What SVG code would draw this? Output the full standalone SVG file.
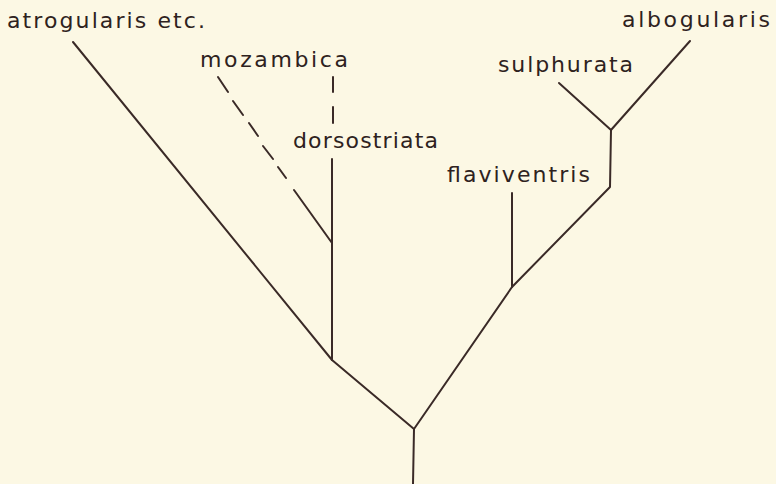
<svg xmlns="http://www.w3.org/2000/svg" width="776" height="484" viewBox="0 0 776 484">
<style>
.bg{fill:#fcf8e4}
.e{stroke:#3a2a27;stroke-width:2;fill:none;stroke-linecap:round;stroke-linejoin:round}
text{font-family:"DejaVu Sans","Liberation Sans",sans-serif;font-size:22px;fill:#2e2220}
</style>
<rect class="bg" width="776" height="484"/>
<g id="connectors">
<path class="e" d="M413,484 L414,429 L332,360 L73,42"/>
<path class="e" d="M332,360 L332,159"/>
<path class="e" d="M333,77 L333,92 M333,107 L333,123"/>
<path class="e" d="M218,77 L228,92 M233,101 L243,115 M249,123 L258,136 M263,146 L273,159 M278,167 L286,178 M294,190 L332,243"/>
<path class="e" d="M414,429 L512,287 L610,187 L611,130 L690,41"/>
<path class="e" d="M611,130 L559,83"/>
<path class="e" d="M512,287 L512,193"/>
</g>
<g id="atrogularis"><text x="7" y="28" textLength="198" lengthAdjust="spacing">atrogularis etc.</text></g>
<g id="mozambica"><text x="200" y="67" textLength="148" lengthAdjust="spacing">mozambica</text></g>
<g id="dorsostriata"><text x="293" y="148" textLength="145" lengthAdjust="spacing">dorsostriata</text></g>
<g id="sulphurata"><text x="498" y="72" textLength="135" lengthAdjust="spacing">sulphurata</text></g>
<g id="albogularis"><text x="622" y="27" textLength="148" lengthAdjust="spacing">albogularis</text></g>
<g id="flaviventris"><text x="447" y="182" textLength="143" lengthAdjust="spacing">flaviventris</text></g>
</svg>
